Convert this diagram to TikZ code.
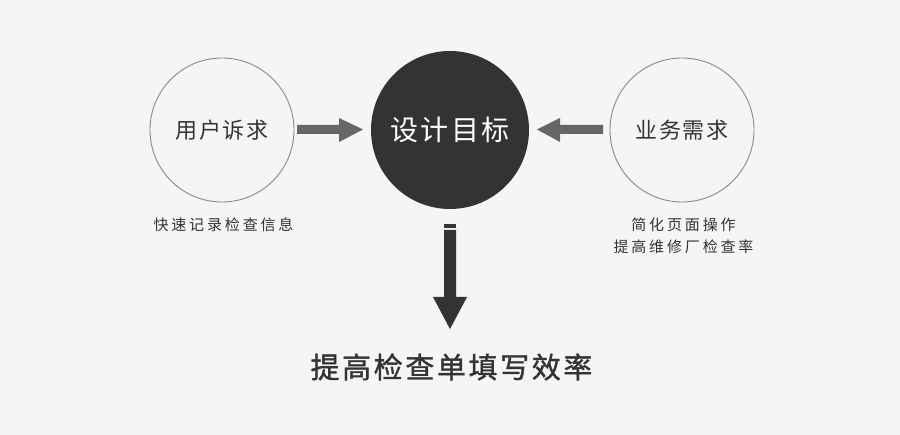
\documentclass[tikz,border=0pt]{standalone}
\usepackage{fontspec}
\setmainfont{Noto Sans CJK SC}
\newfontfamily\cjkmed[LetterSpace=8]{Noto Sans CJK SC}
\newfontfamily\cjknote[LetterSpace=19]{Noto Sans CJK SC}
\newfontfamily\cjkbold[LetterSpace=9,FakeBold=1.2]{Noto Sans CJK SC}
\definecolor{bg}{HTML}{F5F5F5}
\definecolor{dark}{HTML}{333333}
\definecolor{arrowgray}{HTML}{666666}
\definecolor{ringgray}{HTML}{888888}
\tikzset{
  ring/.style={circle, draw=ringgray, line width=0.9pt, minimum size=144pt, inner sep=0pt, text=dark, font=\cjkmed\fontsize{22}{26}\selectfont},
  core/.style={circle, fill=dark, minimum size=158pt, inner sep=0pt, text=white, font=\cjkmed\fontsize{28}{32}\selectfont},
  note/.style={text=dark, font=\cjknote\fontsize{15}{22}\selectfont, align=center, inner sep=0pt},
  sidearrow/.style={fill=arrowgray},
  downarrow/.style={fill=dark}
}
\begin{document}
\begin{tikzpicture}[x=1pt,y=-1pt]
\fill[bg] (0,0) rectangle (900,435);
\useasboundingbox (0,0) rectangle (900,435);
\node[ring] (user) at (222,130) {用户诉求};
\node[core] (goal) at (450,130) {设计目标};
\node[ring] (biz) at (682,130) {业务需求};
\node[note] (usernote) at (223.5,225) {快速记录检查信息};
\node[note] (biznote) at (683.5,236) {简化页面操作\\提高维修厂检查率};
\node[text=dark, font=\cjkbold\fontsize{29}{33}\selectfont, inner sep=0pt] (result) at (451.5,367) {提高检查单填写效率};
% left arrow
\fill[sidearrow] (297,125) -- (339,125) -- (339,118) -- (363,129.5) -- (339,142) -- (339,134) -- (297,134) -- cycle;
% right arrow
\fill[sidearrow] (603,125) -- (560,125) -- (560,118) -- (537,129.5) -- (560,142) -- (560,134) -- (603,134) -- cycle;
% down arrow
\fill[downarrow] (444,224) rectangle (456,228);
\fill[downarrow] (444,230) -- (456,230) -- (456,297) -- (467,297) -- (450,329) -- (433,297) -- (444,297) -- cycle;
\end{tikzpicture}
\end{document}
